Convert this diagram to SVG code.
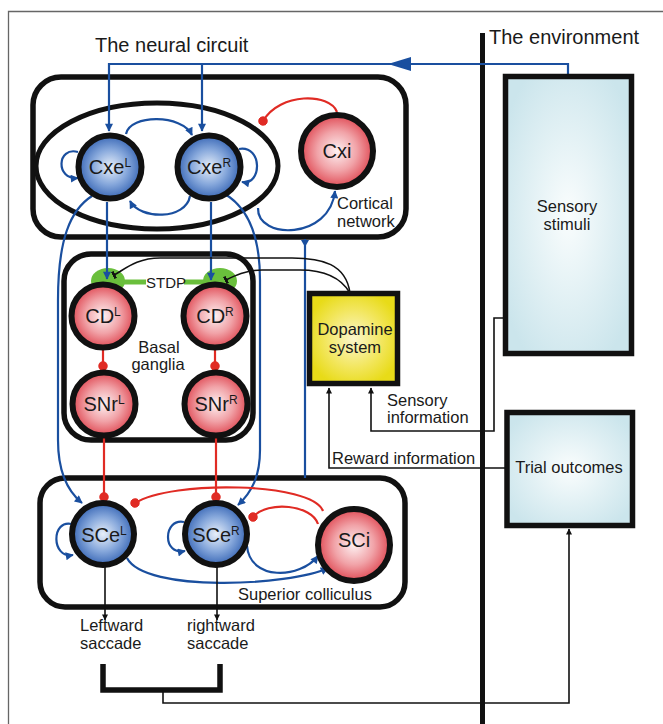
<svg xmlns="http://www.w3.org/2000/svg" width="663" height="724" viewBox="0 0 663 724">
<defs>
<style>
text{font-family:"Liberation Sans",Arial,sans-serif;fill:#1a1a1a}
.lbl{font-size:16.5px}
.node{font-size:20px;text-anchor:middle}
.sup{font-size:12px}
.box{fill:none;stroke:#111;stroke-width:5.5}
.circ{stroke:#111;stroke-width:6}
.blue{fill:none;stroke:#1a4f9f;stroke-width:2.2}
.red{fill:none;stroke:#e02b24;stroke-width:2.2}
.blk{fill:none;stroke:#111;stroke-width:1.6}
</style>
<radialGradient id="gBlue" cx="50%" cy="50%" r="50%">
<stop offset="0" stop-color="#e8eff9"/><stop offset="0.55" stop-color="#88a9dc"/><stop offset="1" stop-color="#3a68b6"/>
</radialGradient>
<radialGradient id="gRed" cx="50%" cy="50%" r="50%">
<stop offset="0" stop-color="#fdf1f2"/><stop offset="0.55" stop-color="#f1a3a8"/><stop offset="1" stop-color="#e04c56"/>
</radialGradient>
<radialGradient id="gYel" cx="50%" cy="50%" r="55%">
<stop offset="0" stop-color="#fbf6cc"/><stop offset="0.6" stop-color="#f2e65c"/><stop offset="1" stop-color="#e8db18"/>
</radialGradient>
<radialGradient id="gLb" cx="50%" cy="50%" r="60%">
<stop offset="0" stop-color="#fafdfd"/><stop offset="1" stop-color="#cbe5ec"/>
</radialGradient>
<marker id="aB" viewBox="0 0 10 10" refX="9" refY="5" markerWidth="9" markerHeight="8" markerUnits="userSpaceOnUse" orient="auto">
<path d="M0,0 L10,5 L0,10 z" fill="#1a4f9f"/>
</marker>
<marker id="aK" viewBox="0 0 10 10" refX="9" refY="5" markerWidth="7" markerHeight="6" markerUnits="userSpaceOnUse" orient="auto">
<path d="M0,0 L10,5 L0,10 z" fill="#111"/>
</marker>
<marker id="dR" viewBox="0 0 10 10" refX="5" refY="5" markerWidth="9.5" markerHeight="9.5" markerUnits="userSpaceOnUse" orient="auto">
<circle cx="5" cy="5" r="5" fill="#e02b24"/>
</marker>
<marker id="tK" viewBox="0 0 4 10" refX="2" refY="5" markerWidth="3" markerHeight="9" markerUnits="userSpaceOnUse" orient="auto">
<rect x="0" y="0" width="4" height="10" fill="#111"/>
</marker>
</defs>
<rect width="663" height="724" fill="#fff"/>
<path d="M8.5,724 V11.5 H663" fill="none" stroke="#666" stroke-width="1.3"/>

<text x="95" y="52" style="font-size:20px">The neural circuit</text>
<text x="489" y="44" style="font-size:20px">The environment</text>
<line x1="482.5" y1="33" x2="482.5" y2="724" stroke="#111" stroke-width="5"/>

<g id="cortical-network">
<rect class="box" x="33" y="77" width="373" height="160" rx="28"/>
<ellipse cx="157" cy="166" rx="121" ry="63" fill="none" stroke="#111" stroke-width="5"/>
<text class="lbl" x="337" y="209">Cortical</text>
<text class="lbl" x="337" y="227">network</text>
</g>
<g id="basal-ganglia">
<rect class="box" x="64" y="254" width="189" height="186" rx="27"/>
<text class="lbl" x="159" y="353" text-anchor="middle">Basal</text>
<text class="lbl" x="158" y="370" text-anchor="middle">ganglia</text>
</g>
<g id="superior-colliculus">
<rect class="box" x="40" y="478" width="365" height="129" rx="25"/>
<text class="lbl" x="238" y="600">Superior colliculus</text>
</g>

<g id="stdp">
<ellipse cx="108" cy="281" rx="17" ry="13" fill="#6abf3c"/>
<ellipse cx="220" cy="281" rx="17" ry="13" fill="#6abf3c"/>
<line x1="120" y1="282" x2="146" y2="282" stroke="#6abf3c" stroke-width="5"/>
<line x1="184" y1="282" x2="206" y2="282" stroke="#6abf3c" stroke-width="5"/>
<text x="146" y="288" style="font-size:15px">STDP</text>
</g>

<g id="connectors">
<path class="blue" d="M568,75 V64 H109 V131" marker-end="url(#aB)"/>
<path class="blue" d="M202,64 V131" marker-end="url(#aB)"/>
<polygon points="388,64 411,57 411,71" fill="#1a4f9f"/>
<path class="blue" d="M78,152 C57,146 55,180 78,178" marker-end="url(#aB)"/>
<path class="blue" d="M239,149 C263,145 262,186 242,182" marker-end="url(#aB)"/>
<path class="blue" d="M126,134 C130,114 182,114 192,135" marker-end="url(#aB)"/>
<path class="blue" d="M190,196 C186,220 140,220 130,201" marker-end="url(#aB)"/>
<path class="red" d="M337,112 C330,93 280,92 263,121" marker-end="url(#dR)"/>
<path class="blue" d="M258,208 C257,240 330,240 335,191" marker-end="url(#aB)"/>
<path class="blue" d="M92,196 C70,210 58,240 58,300 L58,440 C58,470 66,490 82,503" marker-end="url(#aB)"/>
<path class="blue" d="M223,193 C245,205 260,230 260,280 L260,450 C260,476 252,492 238,505" marker-end="url(#aB)"/>
<path class="blue" d="M107,202 V279" marker-end="url(#aB)"/>
<path class="blue" d="M211,202 V280" marker-end="url(#aB)"/>
<line x1="305" y1="239" x2="305" y2="478" stroke="#1a4f9f" stroke-width="2.2"/>
<polygon points="301,240 309,240 305,247" fill="#1a4f9f"/>
<path class="blk" d="M350,293 C346,264 322,258 292,258 L160,258 C136,258 124,270 114,275" marker-end="url(#tK)"/>
<path class="blk" d="M350,293 C340,276 322,270 300,270 L262,270 C246,270 234,276 226,280" marker-end="url(#tK)"/>
<path class="red" d="M103,349 V366" marker-end="url(#dR)"/>
<path class="red" d="M215,349 V366" marker-end="url(#dR)"/>
<path class="red" d="M104,437 V497" marker-end="url(#dR)"/>
<path class="red" d="M216,437 V497" marker-end="url(#dR)"/>
<path class="red" d="M323,511 C312,482 172,480 135,503" marker-end="url(#dR)"/>
<path class="red" d="M318,524 C312,505 268,500 253,517" marker-end="url(#dR)"/>
<path class="blue" d="M247,546 C250,581 300,579 318,556" marker-end="url(#aB)"/>
<path class="blue" d="M127,558 C145,593 290,586 328,568" marker-end="url(#aB)"/>
<path class="blue" d="M72,524 C51,519 51,559 73,555" marker-end="url(#aB)"/>
<path class="blue" d="M184,522 C163,518 162,556 185,551" marker-end="url(#aB)"/>
<path class="blk" d="M105,566 V620" marker-end="url(#aK)"/>
<path class="blk" d="M217,566 V620" marker-end="url(#aK)"/>
<path d="M103,664 V690 H220 V664" fill="none" stroke="#111" stroke-width="5.5"/>
<path class="blk" d="M163,690 V703 H569 V529" marker-end="url(#aK)"/>
<path class="blk" d="M505,318 H494 V431 H371 V388" marker-end="url(#aK)"/>
<path class="blk" d="M506,468 H329 V388" marker-end="url(#aK)"/>
</g>

<g id="Cxe-L"><circle class="circ" cx="110" cy="167" r="31.5" fill="url(#gBlue)"/><text class="node" x="110" y="174">Cxe<tspan class="sup" dy="-7">L</tspan></text></g>
<g id="Cxe-R"><circle class="circ" cx="209" cy="167" r="31.5" fill="url(#gBlue)"/><text class="node" x="209" y="174">Cxe<tspan class="sup" dy="-7">R</tspan></text></g>
<g id="Cxi"><circle class="circ" cx="337" cy="151" r="36" fill="url(#gRed)"/><text class="node" x="337" y="158">Cxi</text></g>
<g id="CD-L"><circle class="circ" cx="103" cy="316" r="31.5" fill="url(#gRed)"/><text class="node" x="103" y="323">CD<tspan class="sup" dy="-7">L</tspan></text></g>
<g id="CD-R"><circle class="circ" cx="215" cy="316" r="31.5" fill="url(#gRed)"/><text class="node" x="215" y="323">CD<tspan class="sup" dy="-7">R</tspan></text></g>
<g id="SNr-L"><circle class="circ" cx="104" cy="404" r="31.5" fill="url(#gRed)"/><text class="node" x="104" y="411">SNr<tspan class="sup" dy="-7">L</tspan></text></g>
<g id="SNr-R"><circle class="circ" cx="216" cy="404" r="31.5" fill="url(#gRed)"/><text class="node" x="216" y="411">SNr<tspan class="sup" dy="-7">R</tspan></text></g>
<g id="SCe-L"><circle class="circ" cx="103" cy="534" r="31" fill="url(#gBlue)"/><text class="node" x="104" y="542">SCe<tspan class="sup" dy="-7">L</tspan></text></g>
<g id="SCe-R"><circle class="circ" cx="216" cy="534" r="31" fill="url(#gBlue)"/><text class="node" x="216" y="542">SCe<tspan class="sup" dy="-7">R</tspan></text></g>
<g id="SCi"><circle class="circ" cx="354" cy="545" r="36" fill="url(#gRed)"/><text class="node" x="354" y="547">SCi</text></g>

<g id="dopamine-system">
<rect x="309.5" y="293.5" width="88" height="90" fill="url(#gYel)" stroke="#111" stroke-width="5.5"/>
<text class="lbl" x="355" y="335" text-anchor="middle">Dopamine</text>
<text class="lbl" x="355" y="353" text-anchor="middle">system</text>
</g>
<g id="sensory-stimuli">
<rect x="505.5" y="76.5" width="126" height="277" fill="url(#gLb)" stroke="#111" stroke-width="5.5"/>
<text class="lbl" x="567" y="212" text-anchor="middle">Sensory</text>
<text class="lbl" x="567" y="230" text-anchor="middle">stimuli</text>
</g>
<g id="trial-outcomes">
<rect x="507" y="412.5" width="125.5" height="113" fill="url(#gLb)" stroke="#111" stroke-width="5.5"/>
<text class="lbl" x="569" y="473" text-anchor="middle">Trial outcomes</text>
</g>

<g id="labels">
<text class="lbl" x="387" y="406">Sensory</text>
<text class="lbl" x="387" y="423">information</text>
<text class="lbl" x="332" y="464">Reward information</text>
<text class="lbl" x="80" y="631">Leftward</text>
<text class="lbl" x="80" y="649">saccade</text>
<text class="lbl" x="187" y="631">rightward</text>
<text class="lbl" x="187" y="649">saccade</text>
</g>
</svg>
